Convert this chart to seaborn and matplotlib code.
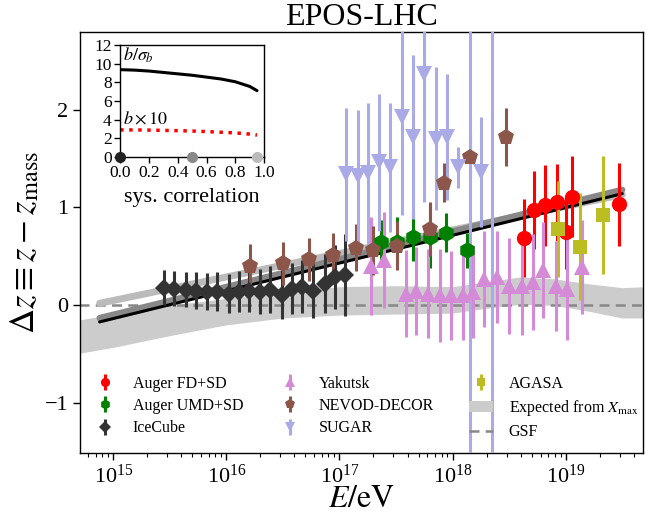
import matplotlib
matplotlib.use("Agg")

import matplotlib.pyplot as plt
import numpy as np
import pandas as pd
import seaborn as sns

# --- Messdaten: log10(E/eV), Delta z, Fehler ---
fd_logE = [18.63, 18.72, 18.82, 18.92, 19.00, 19.06, 19.47]
fd_dz = [0.69, 0.97, 1.02, 1.05, 0.75, 1.11, 1.03]
fd_err = [0.40, 0.40, 0.41, 0.39, 0.38, 0.41, 0.42]

umd_logE = [17.37, 17.51, 17.65, 17.80, 17.94, 18.13]
umd_dz = [0.65, 0.65, 0.70, 0.70, 0.74, 0.56]
umd_err = [0.22, 0.25, 0.25, 0.32, 0.20, 0.18]

ice_logE = [15.45, 15.54, 15.64, 15.73, 15.83, 15.92, 16.02, 16.11, 16.20,
            16.30, 16.39, 16.49, 16.58, 16.67, 16.77, 16.87, 16.96, 17.05]
ice_dz = [0.18, 0.17, 0.16, 0.15, 0.14, 0.14, 0.12, 0.14, 0.15,
          0.14, 0.16, 0.11, 0.17, 0.19, 0.15, 0.22, 0.29, 0.31]
ice_err = [0.18, 0.18, 0.18, 0.19, 0.19, 0.20, 0.20, 0.21, 0.22,
           0.23, 0.24, 0.25, 0.26, 0.27, 0.28, 0.30, 0.33, 0.42]

yak_logE = [17.28, 17.39, 17.59, 17.68, 17.78, 17.89, 17.99, 18.09, 18.18,
            18.28, 18.39, 18.50, 18.61, 18.71, 18.80, 18.91, 19.01, 19.14]
yak_dz = [0.40, 0.46, 0.12, 0.15, 0.12, 0.10, 0.10, 0.11, 0.14,
          0.27, 0.29, 0.20, 0.20, 0.24, 0.36, 0.20, 0.17, 0.39]
yak_err = [0.50, 0.49, 0.44, 0.45, 0.45, 0.48, 0.45, 0.46, 0.47,
           0.49, 0.47, 0.49, 0.50, 0.49, 0.49, 0.46, 0.52, 0.48]

nev_logE = [16.21, 16.50, 16.73, 16.94, 17.15, 17.30, 17.51, 17.80, 17.92, 18.15, 18.47]
nev_dz = [0.40, 0.43, 0.47, 0.51, 0.59, 0.56, 0.61, 0.78, 1.25, 1.51, 1.72]
nev_err = [0.23, 0.22, 0.22, 0.23, 0.24, 0.25, 0.25, 0.28, 0.20, 0.25, 0.30]

sug_logE = [17.06, 17.16, 17.25, 17.35, 17.45, 17.55, 17.65, 17.75, 17.85,
            17.95, 18.05, 18.15, 18.25, 18.35]
sug_dz = [1.34, 1.32, 1.35, 1.46, 1.41, 1.92, 1.72, 2.36, 1.70,
          1.72, 1.41, 3.40, 1.36, 3.40]
sug_err = [0.68, 0.67, 0.72, 0.70, 0.66, 1.00, 0.84, 1.30, 0.73,
           0.64, 0.21, 5.50, 0.56, 5.50]

aga_logE = [18.93, 19.13, 19.33]
aga_dz = [0.78, 0.60, 0.92]
aga_err = [0.49, 0.55, 0.60]

# Erwartung aus Xmax (Band)
band_logE = [14.7, 15.0, 15.5, 16.0, 16.5, 17.0, 17.5, 18.0, 18.3, 18.6, 18.9, 19.2, 19.5, 19.7]
band_lo = [-0.49, -0.43, -0.31, -0.20, -0.13, -0.10, -0.09, -0.08, -0.03, 0.01, 0.00, -0.06, -0.13, -0.13]
band_hi = [-0.15, -0.09, 0.00, 0.07, 0.13, 0.19, 0.20, 0.19, 0.24, 0.29, 0.27, 0.22, 0.18, 0.19]

# GSF
gsf_logE = [14.7, 19.7]
gsf_dz = [0.0, 0.0]

# Fit-Geraden fuer sys. Korrelation 0, 0.5, 0.95
fit_logE = [14.88, 19.50]
fit_k0 = [-0.17, 1.14]
fit_k05 = [-0.13, 1.18]
fit_k095 = [0.02, 1.13]

# Inset
korr = [0.0, 0.1, 0.2, 0.3, 0.4, 0.5, 0.6, 0.7, 0.8, 0.9, 0.95]
b_sigma = [9.35, 9.30, 9.20, 9.05, 8.90, 8.75, 8.55, 8.35, 8.05, 7.55, 7.10]
b_mal10 = [2.90, 2.90, 2.88, 2.85, 2.82, 2.78, 2.72, 2.65, 2.58, 2.45, 2.35]
korr_punkte = [0.0, 0.5, 0.95]
korr_farben = ["#222222", "#888888", "#bbbbbb"]

sns.set_theme(style="ticks")
plt.rcParams.update({
    "font.family": "serif",
    "font.serif": ["Liberation Serif", "DejaVu Serif"],
    "mathtext.fontset": "stix",
    "axes.edgecolor": "black",
    "axes.linewidth": 1.0,
    "xtick.color": "black",
    "ytick.color": "black",
    "text.color": "black",
    "axes.labelcolor": "black",
})

fig = plt.figure(figsize=(6.46, 5.19), dpi=100)
ax = fig.add_axes([0.124, 0.127, 0.871, 0.811])

E = lambda l: 10 ** np.asarray(l, dtype=float)

# Band und Linien
ax.fill_between(E(band_logE), band_lo, band_hi, color="#cccccc", lw=0,
                label=r"Expected from $X_\mathrm{max}$", zorder=1)
sns.lineplot(x=E(gsf_logE), y=gsf_dz, ax=ax, color="#888888", lw=1.8,
             linestyle=(0, (4, 2.5)), label="GSF", zorder=2)
sns.lineplot(x=E(fit_logE), y=fit_k095, ax=ax, color="#bbbbbb", lw=5, zorder=2, legend=False)
sns.lineplot(x=E(fit_logE), y=fit_k05, ax=ax, color="#888888", lw=4.5, zorder=2, legend=False)
sns.lineplot(x=E(fit_logE), y=fit_k0, ax=ax, color="black", lw=2.2, zorder=3, legend=False)


def punkte(logE, dz, err, marker, farbe, name, ms=11):
    ax.errorbar(E(logE), dz, yerr=err, fmt=marker, color=farbe, ms=ms, mew=0,
                elinewidth=2.2, capsize=0, label=name, zorder=4)


punkte(fd_logE, fd_dz, fd_err, "o", "red", "Auger FD+SD")
punkte(umd_logE, umd_dz, umd_err, "h", "green", "Auger UMD+SD", ms=12)
punkte(ice_logE, ice_dz, ice_err, "D", "#333333", "IceCube", ms=9.5)
punkte(yak_logE, yak_dz, yak_err, "^", "#d48ad6", "Yakutsk")
punkte(nev_logE, nev_dz, nev_err, "p", "#8c564b", "NEVOD-DECOR", ms=12)
punkte(sug_logE, sug_dz, sug_err, "v", "#aaaae6", "SUGAR")
punkte(aga_logE, aga_dz, aga_err, "s", "#bcbd22", "AGASA", ms=10)

ax.set_xscale("log")
ax.set_xlim(5.1e14, 4.8e19)
ax.set_ylim(-1.51, 2.79)
ax.set_yticks([-1, 0, 1, 2])
ax.tick_params(axis="both", which="major", labelsize=16, length=5, width=1, direction="out")
ax.tick_params(axis="x", which="minor", length=3, width=0.8, direction="out")
ax.set_xlabel(r"$E/\mathrm{eV}$", fontsize=23, labelpad=-2)
ax.set_ylabel(r"$\Delta z \equiv z - z_\mathrm{mass}$", fontsize=25, labelpad=2)
ax.set_title("EPOS-LHC", fontsize=23, pad=5)

h, l = ax.get_legend_handles_labels()
reihenfolge = ["Auger FD+SD", "Auger UMD+SD", "IceCube", "Yakutsk", "NEVOD-DECOR",
               "SUGAR", "AGASA", r"Expected from $X_\mathrm{max}$", "GSF"]
hd = dict(zip(l, h))
ax.legend([hd[n] for n in reihenfolge], reihenfolge, loc="lower left", ncol=3,
          frameon=False, fontsize=11.5, markerscale=0.6, handlelength=1.5,
          handletextpad=1.0, columnspacing=2.2, labelspacing=0.4,
          bbox_to_anchor=(0.0, 0.0), borderaxespad=0.4)

# Inset
ins = fig.add_axes([0.186, 0.6975, 0.223, 0.216])
sns.lineplot(x=korr, y=b_sigma, ax=ins, color="black", lw=2.2)
sns.lineplot(x=korr, y=b_mal10, ax=ins, color="red", lw=2.5, linestyle=(0, (1, 1.6)))
for kx, kf in zip(korr_punkte, korr_farben):
    ins.plot(kx, 0, "o", color=kf, ms=7, clip_on=False, zorder=5)
ins.set_xlim(0, 1)
ins.set_ylim(0, 12)
ins.set_xticks(np.arange(0, 1.01, 0.2))
ins.set_yticks(range(0, 13, 2))
ins.xaxis.set_major_formatter(matplotlib.ticker.FormatStrFormatter("%.1f"))
ins.tick_params(labelsize=12.5, length=4, width=1, pad=2)
ins.set_xlabel("sys. correlation", fontsize=16, labelpad=5)
ins.set_ylabel("")
ins.text(0.02, 9.9, r"$b/\sigma_b$", fontsize=13, va="bottom")
ins.text(0.02, 3.1, r"$b\times10$", fontsize=13, va="bottom")

fig.savefig("out.png", dpi=100)
plt.close(fig)
